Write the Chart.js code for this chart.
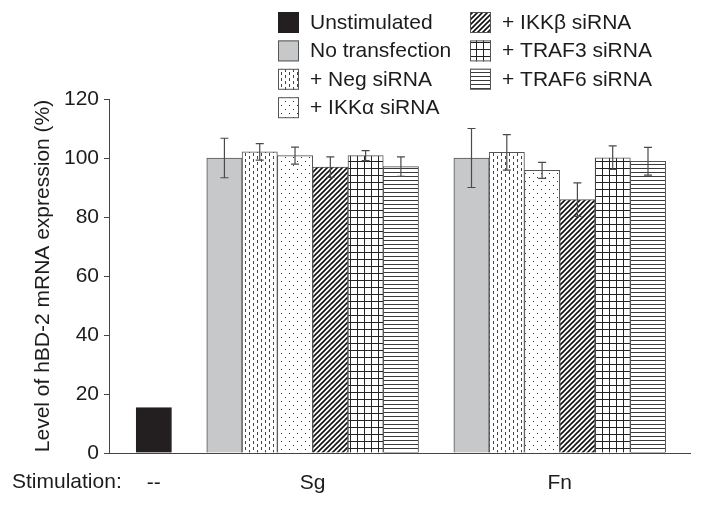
<!DOCTYPE html>
<html>
<head>
<meta charset="utf-8">
<script src="https://cdn.jsdelivr.net/npm/chart.js@4.4.0/dist/chart.umd.min.js"></script>
<style>
  html, body { margin: 0; padding: 0; background: #fff; }
  #wrap { width: 704px; height: 506px; }
</style>
</head>
<body>
<div id="wrap"><canvas id="chart"></canvas></div>
<script>
// data
const groups = ['--', 'Sg', 'Fn'];
const seriesNames = ['Unstimulated', 'No transfection', '+ Neg siRNA', '+ IKK\u03b1 siRNA', '+ IKK\u03b2 siRNA', '+ TRAF3 siRNA', '+ TRAF6 siRNA'];
const unstimValues = [15.4];
const sgValues = [100, 102.1, 100.8, 96.9, 100.8, 97.1];
const sgErrors = [6.7, 2.8, 2.9, 3.5, 1.7, 3.3];
const fnValues = [100, 101.9, 95.8, 85.9, 100.1, 98.9];
const fnErrors = [10, 6, 2.7, 5.7, 4, 4.7];
const yTicks = [0, 20, 40, 60, 80, 100, 120];

const FONT = "'Liberation Sans', Arial, Helvetica, sans-serif";
const TEXT = '#1c1c1c';
const AXIS = '#444';

function makePattern(kind) {
    const c = document.createElement('canvas');
    const size = { dash: [8, 6], dot: [8, 8], diag: [5, 5], grid: [7, 7], hline: [4, 4] }[kind];
    c.width = size[0];
    c.height = size[1];
    const g = c.getContext('2d');
    g.fillStyle = '#fff';
    g.fillRect(0, 0, c.width, c.height);
    if (kind === 'dash') {
        g.fillStyle = '#444';
        g.fillRect(1, 0, 1, 3);
        g.fillRect(5, 3, 1, 3);
    } else if (kind === 'dot') {
        g.fillStyle = '#333';
        g.fillRect(1, 1, 1, 1);
        g.fillRect(5, 5, 1, 1);
    } else if (kind === 'diag') {
        g.strokeStyle = '#111';
        g.lineWidth = 1.6;
        g.beginPath();
        g.moveTo(-1, 6); g.lineTo(6, -1);
        g.moveTo(-1, 1); g.lineTo(1, -1);
        g.moveTo(4, 6); g.lineTo(6, 4);
        g.stroke();
    } else if (kind === 'grid') {
        g.fillStyle = '#222';
        g.fillRect(0, 0, 7, 1);
        g.fillRect(0, 0, 1, 7);
    } else if (kind === 'hline') {
        g.fillStyle = '#3a3a3a';
        g.fillRect(0, 0, 4, 1);
    }
    return g.createPattern(c, 'repeat');
}

const fills = ['#231f20', '#c7c8ca', makePattern('dash'), makePattern('dot'), makePattern('diag'), makePattern('grid'), makePattern('hline')];

// slot index of each group: groups follow each other with one empty slot between
const groupSizes = [1, 6, 6];
const groupStart = [];
let s = 0;
groupSizes.forEach(n => { groupStart.push(s); s += n + 1; });
const groupCenters = groupStart.map((g, i) => g + groupSizes[i] / 2);

const datasets = seriesNames.map((name, i) => {
    let points, errors;
    if (i === 0) {
        points = [{ x: groupStart[0] + 0.5, y: unstimValues[0] }];
        errors = [null];
    } else {
        points = [
            { x: groupStart[1] + i - 0.5, y: sgValues[i - 1] },
            { x: groupStart[2] + i - 0.5, y: fnValues[i - 1] }
        ];
        errors = [sgErrors[i - 1], fnErrors[i - 1]];
    }
    return {
        label: name,
        data: points,
        errors: errors,
        backgroundColor: fills[i],
        borderColor: i === 0 ? '#231f20' : '#555',
        borderWidth: 1,
        borderSkipped: 'start',
        grouped: false,
        barPercentage: 1,
        categoryPercentage: 1
    };
});

const errorBars = {
    id: 'errorBars',
    afterDatasetsDraw(chart) {
        const ctx = chart.ctx;
        const y = chart.scales.y;
        ctx.save();
        ctx.strokeStyle = '#4a4a4a';
        ctx.lineWidth = 1.2;
        chart.data.datasets.forEach((ds, di) => {
            const meta = chart.getDatasetMeta(di);
            meta.data.forEach((bar, j) => {
                const e = ds.errors[j];
                if (e == null) return;
                const v = ds.data[j].y;
                const top = y.getPixelForValue(v + e);
                const bot = y.getPixelForValue(v - e);
                ctx.beginPath();
                ctx.moveTo(bar.x, top); ctx.lineTo(bar.x, bot);
                ctx.moveTo(bar.x - 4, top); ctx.lineTo(bar.x + 4, top);
                ctx.moveTo(bar.x - 4, bot); ctx.lineTo(bar.x + 4, bot);
                ctx.stroke();
            });
        });
        ctx.restore();
    }
};

const sideText = {
    id: 'sideText',
    afterDraw(chart) {
        const ctx = chart.ctx;
        ctx.save();
        ctx.font = '21px ' + FONT;
        ctx.fillStyle = TEXT;
        ctx.textBaseline = 'middle';
        ctx.textAlign = 'left';
        // stimulation label on the tick row
        ctx.fillText('Stimulation:', 12, 482);

        // two-column legend, four rows in the first column
        chart.data.datasets.forEach((ds, i) => {
            const col = i < 4 ? 0 : 1;
            const row = i < 4 ? i : i - 4;
            const bx = [278, 470][col];
            const by = 12 + row * 28.4;
            ctx.fillStyle = ds.backgroundColor;
            ctx.fillRect(bx, by, 21, 21);
            ctx.strokeStyle = ds.borderColor;
            ctx.lineWidth = 1;
            ctx.strokeRect(bx + 0.5, by + 0.5, 20, 20);
            ctx.fillStyle = TEXT;
            ctx.fillText(ds.label, bx + 32, by + 11);
        });
        ctx.restore();
    }
};

new Chart(document.getElementById('chart'), {
    type: 'bar',
    data: { datasets: datasets },
    plugins: [errorBars, sideText],
    options: {
        responsive: true,
        maintainAspectRatio: false,
        animation: false,
        layout: { padding: { top: 99, right: 14, left: 0, bottom: 0 } },
        plugins: {
            legend: { display: false },
            tooltip: { enabled: false }
        },
        scales: {
            x: {
                type: 'linear',
                offset: false,
                min: -0.77,
                max: 15.69,
                grid: { display: false },
                border: { display: true, color: AXIS, width: 1 },
                afterBuildTicks: scale => { scale.ticks = groupCenters.map(v => ({ value: v })); },
                afterFit: scale => { scale.height = 53; },
                ticks: {
                    autoSkip: false,
                    maxRotation: 0,
                    padding: 10,
                    color: TEXT,
                    font: { size: 21, family: FONT },
                    callback: (v, i) => groups[i]
                }
            },
            y: {
                min: 0,
                max: 120,
                afterBuildTicks: scale => { scale.ticks = yTicks.map(v => ({ value: v })); },
                afterFit: scale => { scale.width = 109; },
                grid: { display: true, drawOnChartArea: false, drawTicks: true, tickLength: 5, color: AXIS },
                border: { display: true, color: AXIS, width: 1 },
                ticks: {
                    padding: 5,
                    color: TEXT,
                    font: { size: 21, family: FONT }
                },
                title: {
                    display: true,
                    text: 'Level of hBD-2 mRNA expression (%)',
                    color: TEXT,
                    font: { size: 21, family: FONT },
                    padding: { top: 31, bottom: 0 }
                }
            }
        }
    }
});
</script>
</body>
</html>
